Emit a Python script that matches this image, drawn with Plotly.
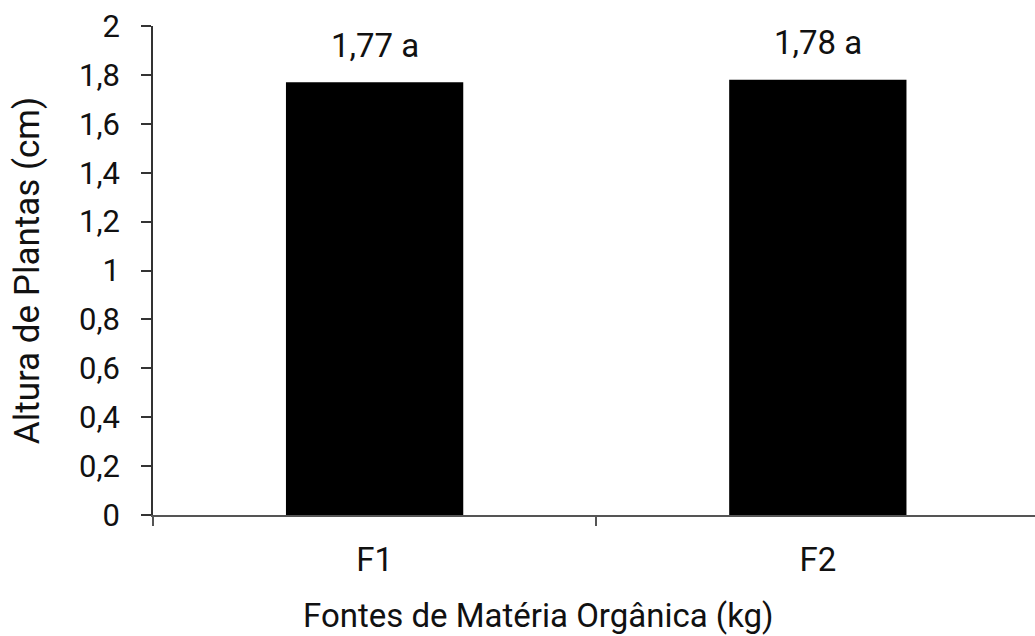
import plotly.graph_objects as go

categories = ["F1", "F2"]
values = [1.77, 1.78]
labels = ["1,77 a", "1,78 a"]
x_title = "Fontes de Matéria Orgânica (kg)"
y_title = "Altura de Plantas (cm)"

fig = go.Figure()
fig.add_trace(go.Bar(x=categories, y=values, marker=dict(color="black", line=dict(width=0)),
                     width=0.4, showlegend=False))

for c, v, t in zip(categories, values, labels):
    fig.add_annotation(x=c, y=v, text=t, showarrow=False, yanchor="middle", yshift=37,
                       font=dict(family="Roboto", size=33, color="#111111"))

# x-axis title placed as an annotation (offset left of plot centre as in the reference)
fig.add_annotation(xref="paper", yref="paper", x=0.4376, y=-0.2045, text=x_title,
                   showarrow=False, xanchor="center", yanchor="middle",
                   font=dict(family="Roboto", size=33, color="#111111"))

fig.update_layout(
    width=1035, height=636,
    margin=dict(l=153, r=0, t=26, b=121),
    paper_bgcolor="white", plot_bgcolor="white",
    separators=",.",
    font=dict(family="Roboto", color="#111111"),
    bargap=0.6,
)
fig.update_yaxes(range=[0, 2], dtick=0.2, tick0=0, showgrid=False, zeroline=False,
                 showline=True, linecolor="#333333", linewidth=1.5,
                 ticks="outside", ticklen=10, tickcolor="#333333", tickwidth=1.5,
                 ticklabelstandoff=15,
                 tickfont=dict(family="Roboto", size=31, color="#111111"),
                 title=dict(text=y_title, font=dict(family="Roboto", size=35, color="#111111"), standoff=29))
fig.update_xaxes(range=[-0.5, 1.49], showgrid=False, zeroline=False,
                 showline=True, linecolor="#555555", linewidth=2,
                 ticks="outside", tickson="boundaries", ticklen=9, tickcolor="#555555", tickwidth=1.5,
                 ticklabelstandoff=14,
                 tickfont=dict(family="Roboto", size=33, color="#111111"))

fig.write_html("out.html")
